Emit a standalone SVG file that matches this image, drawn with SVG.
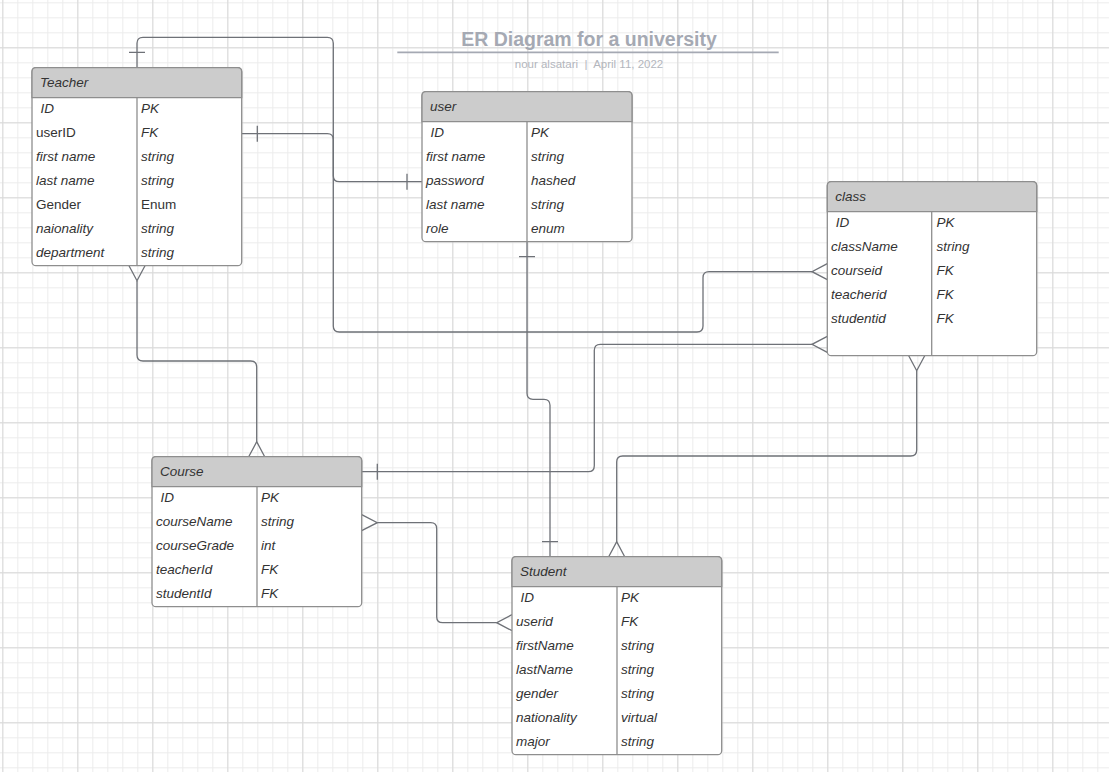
<svg xmlns="http://www.w3.org/2000/svg" width="1109" height="772" viewBox="0 0 1109 772">
<defs>
<pattern id="minor" patternUnits="userSpaceOnUse" x="2.3" y="2.3" width="15" height="15">
<path d="M0.5,0 V15 M0,0.5 H15" fill="none" stroke="#ececec" stroke-width="1"/>
</pattern>
<pattern id="major" patternUnits="userSpaceOnUse" x="2.3" y="47.3" width="75" height="75">
<path d="M0.5,0 V75 M0,0.5 H75" fill="none" stroke="#d9d9d9" stroke-width="1"/>
</pattern>
</defs>
<style>
.box{fill:#ffffff;stroke:#8e8e8e;stroke-width:1.3}
.hdr{fill:#cccccc;stroke:#8e8e8e;stroke-width:1.3}
.sep{stroke:#8e8e8e;stroke-width:1.3;fill:none}
text{font-family:"Liberation Sans",Arial,sans-serif;font-size:13.5px;fill:#333333}
.i{font-style:italic}
.n{font-style:normal}
.title{font-size:19.5px;font-weight:bold;fill:#a5a9b3}
.sub{font-size:11.5px;fill:#b3b6bd}
.c{fill:none;stroke:#6e7177;stroke-width:1.3}
</style>
<rect width="1109" height="772" fill="#ffffff"/>
<rect width="1109" height="772" fill="url(#minor)"/>
<rect width="1109" height="772" fill="url(#major)"/>

<g id="title">
<text x="589" y="46" text-anchor="middle" class="title">ER Diagram for a university</text>
<line x1="397.3" y1="52.3" x2="778.7" y2="52.3" stroke="#a5a9b3" stroke-width="1.8"/>
<text x="589" y="68" text-anchor="middle" class="sub" xml:space="preserve">nour alsatari  |  April 11, 2022</text>
</g>

<g id="connectors">
<!-- Teacher top to user password -->
<path class="c" d="M137,67.7 V43.3 Q137,37.3 143,37.3 H327.3 Q333.3,37.3 333.3,43.3 V175.7 Q333.3,181.7 339.3,181.7 H422"/>
<path class="c" d="M129,52.3 H145 M407,173.7 V189.7"/>
<!-- Teacher userID to class courseid -->
<path class="c" d="M241.7,133.7 H327.3 Q333.3,133.7 333.3,139.7 V326 Q333.3,332 339.3,332 H697 Q703,332 703,326 V277.7 Q703,271.7 709,271.7 H812"/>
<path class="c" d="M257.3,125.7 V141.7 M827.3,263.7 L812,271.7 L827.3,279.7"/>
<!-- user to Student -->
<path class="c" d="M527,241.7 V393.3 Q527,399.3 533,399.3 H544 Q550,399.3 550,405.3 V556.7"/>
<path class="c" d="M519,256.7 H535 M542,541.7 H558"/>
<!-- Teacher bottom to Course top -->
<path class="c" d="M137,280.7 V355 Q137,361 143,361 H250.7 Q256.7,361 256.7,367 V441.7"/>
<path class="c" d="M129,265.7 L137,280.7 L145,265.7 M248.7,456.7 L256.7,441.7 L264.7,456.7"/>
<!-- Course header to class empty row -->
<path class="c" d="M361.7,471.7 H588.3 Q594.3,471.7 594.3,465.7 V350.3 Q594.3,344.3 600.3,344.3 H812"/>
<path class="c" d="M377.3,463.7 V479.7 M827.3,336.3 L812,344.3 L827.3,352.3"/>
<!-- Course courseName to Student userid -->
<path class="c" d="M377.3,522.7 H430.7 Q436.7,522.7 436.7,528.7 V616.7 Q436.7,622.7 442.7,622.7 H496.7"/>
<path class="c" d="M361.7,514.7 L377.3,522.7 L361.7,530.7 M512,614.7 L496.7,622.7 L512,630.7"/>
<!-- class bottom to Student top -->
<path class="c" d="M916.7,370.7 V450 Q916.7,456 910.7,456 H622.7 Q616.7,456 616.7,462 V541.7"/>
<path class="c" d="M908.7,355.7 L916.7,370.7 L924.7,355.7 M608.7,556.7 L616.7,541.7 L624.7,556.7"/>
</g>

<g id="teacher">
<rect class="box" x="32" y="67.7" width="209.7" height="198" rx="4"/>
<path class="hdr" d="M36,67.7 H237.7 Q241.7,67.7 241.7,71.7 V97.7 H32 V71.7 Q32,67.7 36,67.7 Z"/>
<line class="sep" x1="137" y1="97.7" x2="137" y2="265.7"/>
<text x="40" y="86.5" class="i">Teacher</text>
<text x="40.5" y="113" class="i">ID</text><text x="141" y="113" class="i">PK</text>
<text x="36" y="137" class="n">userID</text><text x="141" y="137" class="i">FK</text>
<text x="36" y="161" class="i">first name</text><text x="141" y="161" class="i">string</text>
<text x="36" y="185" class="i">last name</text><text x="141" y="185" class="i">string</text>
<text x="36" y="209" class="n">Gender</text><text x="141" y="209" class="n">Enum</text>
<text x="36" y="233" class="i">naionality</text><text x="141" y="233" class="i">string</text>
<text x="36" y="257" class="i">department</text><text x="141" y="257" class="i">string</text>
</g>

<g id="user">
<rect class="box" x="422" y="91.7" width="210" height="150" rx="4"/>
<path class="hdr" d="M426,91.7 H628 Q632,91.7 632,95.7 V121.7 H422 V95.7 Q422,91.7 426,91.7 Z"/>
<line class="sep" x1="527" y1="121.7" x2="527" y2="241.7"/>
<text x="430" y="110.5" class="i">user</text>
<text x="430.5" y="137" class="i">ID</text><text x="531" y="137" class="i">PK</text>
<text x="426" y="161" class="i">first name</text><text x="531" y="161" class="i">string</text>
<text x="426" y="185" class="i">password</text><text x="531" y="185" class="i">hashed</text>
<text x="426" y="209" class="i">last name</text><text x="531" y="209" class="i">string</text>
<text x="426" y="233" class="i">role</text><text x="531" y="233" class="i">enum</text>
</g>

<g id="class">
<rect class="box" x="827.3" y="181.7" width="209.4" height="174" rx="4"/>
<path class="hdr" d="M831.3,181.7 H1032.7 Q1036.7,181.7 1036.7,185.7 V211.7 H827.3 V185.7 Q827.3,181.7 831.3,181.7 Z"/>
<line class="sep" x1="931.7" y1="211.7" x2="931.7" y2="355.7"/>
<text x="835.3" y="200.5" class="i">class</text>
<text x="835.7" y="227" class="i">ID</text><text x="936.5" y="227" class="i">PK</text>
<text x="831" y="251" class="i">className</text><text x="936.5" y="251" class="i">string</text>
<text x="831" y="275" class="i">courseid</text><text x="936.5" y="275" class="i">FK</text>
<text x="831" y="299" class="i">teacherid</text><text x="936.5" y="299" class="i">FK</text>
<text x="831" y="323" class="i">studentid</text><text x="936.5" y="323" class="i">FK</text>
</g>

<g id="course">
<rect class="box" x="152" y="456.7" width="209.7" height="150" rx="4"/>
<path class="hdr" d="M156,456.7 H357.7 Q361.7,456.7 361.7,460.7 V486.7 H152 V460.7 Q152,456.7 156,456.7 Z"/>
<line class="sep" x1="257" y1="486.7" x2="257" y2="606.7"/>
<text x="160" y="475.5" class="i">Course</text>
<text x="160.5" y="502" class="i">ID</text><text x="261" y="502" class="i">PK</text>
<text x="156" y="526" class="i">courseName</text><text x="261" y="526" class="i">string</text>
<text x="156" y="550" class="i">courseGrade</text><text x="261" y="550" class="i">int</text>
<text x="156" y="574" class="i">teacherId</text><text x="261" y="574" class="i">FK</text>
<text x="156" y="598" class="i">studentId</text><text x="261" y="598" class="i">FK</text>
</g>

<g id="student">
<rect class="box" x="512" y="556.7" width="209.7" height="198" rx="4"/>
<path class="hdr" d="M516,556.7 H717.7 Q721.7,556.7 721.7,560.7 V586.7 H512 V560.7 Q512,556.7 516,556.7 Z"/>
<line class="sep" x1="617" y1="586.7" x2="617" y2="754.7"/>
<text x="520" y="575.5" class="i">Student</text>
<text x="520.5" y="602" class="i">ID</text><text x="621" y="602" class="i">PK</text>
<text x="516" y="626" class="i">userid</text><text x="621" y="626" class="i">FK</text>
<text x="516" y="650" class="i">firstName</text><text x="621" y="650" class="i">string</text>
<text x="516" y="674" class="i">lastName</text><text x="621" y="674" class="i">string</text>
<text x="516" y="698" class="i">gender</text><text x="621" y="698" class="i">string</text>
<text x="516" y="722" class="i">nationality</text><text x="621" y="722" class="i">virtual</text>
<text x="516" y="746" class="i">major</text><text x="621" y="746" class="i">string</text>
</g>
</svg>
